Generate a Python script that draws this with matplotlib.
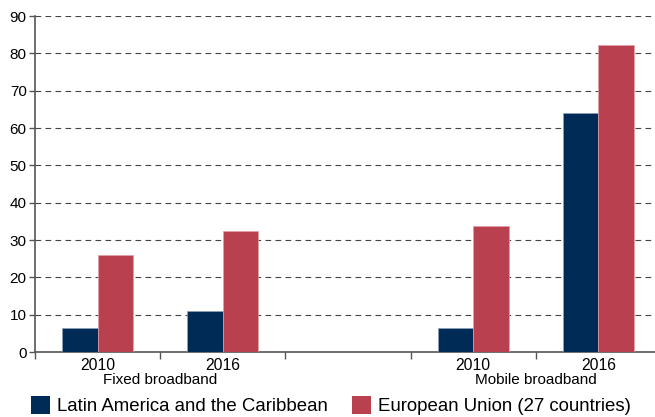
import matplotlib.pyplot as plt
import matplotlib.transforms as mtransforms
from matplotlib.patches import Patch

plt.rcParams['font.family'] = ['Liberation Sans', 'DejaVu Sans']
plt.rcParams['lines.scale_dashes'] = False

# data
years = ["2010", "2016", "2010", "2016"]
groups = ["Fixed broadband", "Mobile broadband"]
slots = [0.5, 1.5, 3.5, 4.5]          # slot 2 is left empty
lac = [6.4, 10.9, 6.4, 63.9]
eu = [26.1, 32.5, 33.8, 82.1]
series = ["Latin America and the Caribbean", "European Union (27 countries)"]
col_lac = "#002b56"
col_eu = "#b9404f"

fig = plt.figure(figsize=(6.55, 4.17), dpi=100)
ax = fig.add_axes([35/655, 1-352/417, 620/655, 336/417])

w = 0.284
ax.bar([s - w/2 for s in slots], lac, width=w, color=col_lac, edgecolor="#8fa3b8", linewidth=0.5, zorder=3)
ax.bar([s + w/2 for s in slots], eu, width=w, color=col_eu, edgecolor="#e0a0a8", linewidth=0.5, zorder=3)

ax.set_xlim(0, 620/125.2)
ax.set_ylim(0, 90)
ax.set_yticks(range(0, 91, 10))
ax.tick_params(axis='y', labelsize=11, length=4, width=1, color="#555555", pad=2)

# year labels at slot centers, boundary ticks without labels
ax.set_xticks(slots)
ax.set_xticklabels(years, fontsize=11.3)
ax.tick_params(axis='x', which='major', length=0, pad=4)
ax.set_xticks([0, 1, 2, 3, 4], minor=True)
ax.tick_params(axis='x', which='minor', length=5, width=1, color="#555555")

ax.grid(axis='y', color="#444444", linestyle=(0, (4.1, 3.1)), linewidth=0.8, zorder=0)
ax.set_axisbelow(True)

for sp in ["top", "right"]:
    ax.spines[sp].set_visible(False)
ax.spines["left"].set_color("#555555")
ax.spines["left"].set_linewidth(1.2)
ax.spines["bottom"].set_color("#555555")
ax.spines["bottom"].set_linewidth(1.2)

trans = mtransforms.blended_transform_factory(ax.transData, ax.transAxes)
ax.text(1.0, -0.083, groups[0], transform=trans, ha='center', va='center', fontsize=11)
ax.text(4.0, -0.083, groups[1], transform=trans, ha='center', va='center', fontsize=11)

handles = [Patch(facecolor=col_lac, edgecolor='none'), Patch(facecolor=col_eu, edgecolor='none')]
fig.legend(handles, series, loc='lower center', bbox_to_anchor=(0.505, -0.014), ncol=2,
           frameon=False, fontsize=13.4, handlelength=1.05, handleheight=1.05,
           handletextpad=0.35, columnspacing=1.3, borderaxespad=0)

fig.savefig("out.png", dpi=100)
